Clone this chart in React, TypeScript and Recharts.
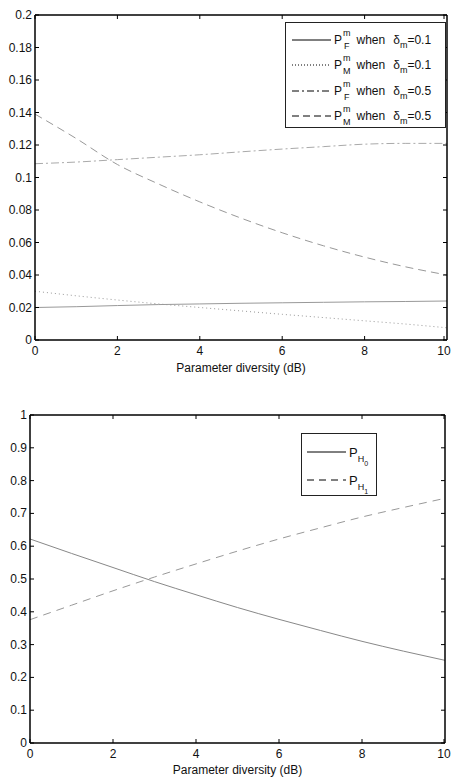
import React from 'react';
import { LineChart, Line, XAxis, YAxis } from 'recharts';

// x positions (dB)
const diversity = [0, 1, 2, 3, 4, 5, 6, 7, 8, 9, 10];

// top panel: error probabilities
const pFalseLow = [0.02, 0.0205, 0.0212, 0.0218, 0.0222, 0.0226, 0.0229, 0.0232, 0.0235, 0.0237, 0.024];
const pMissLow = [0.03, 0.0272, 0.0246, 0.0222, 0.02, 0.0179, 0.0158, 0.0138, 0.0118, 0.0098, 0.0075];
const pFalseHigh = [0.1085, 0.1095, 0.111, 0.1125, 0.114, 0.1158, 0.1175, 0.119, 0.1205, 0.121, 0.121];
const pMissHigh = [0.139, 0.124, 0.108, 0.096, 0.085, 0.075, 0.066, 0.058, 0.051, 0.045, 0.04];

// bottom panel: hypothesis probabilities
const pH0 = [0.622, 0.578, 0.535, 0.492, 0.452, 0.413, 0.377, 0.343, 0.31, 0.28, 0.252];
const pH1 = [0.376, 0.42, 0.464, 0.506, 0.546, 0.585, 0.622, 0.656, 0.689, 0.718, 0.746];

const xTicks = [0, 2, 4, 6, 8, 10];
const topYTicks = [0, 0.02, 0.04, 0.06, 0.08, 0.1, 0.12, 0.14, 0.16, 0.18, 0.2];
const bottomYTicks = [0, 0.1, 0.2, 0.3, 0.4, 0.5, 0.6, 0.7, 0.8, 0.9, 1];

const topData = diversity.map((d, i) => ({
  d,
  pfLow: pFalseLow[i],
  pmLow: pMissLow[i],
  pfHigh: pFalseHigh[i],
  pmHigh: pMissHigh[i],
}));
const bottomData = diversity.map((d, i) => ({ d, h0: pH0[i], h1: pH1[i] }));

const FONT = '"Liberation Sans", Arial, Helvetica, sans-serif';
const TICK = 4;

// matlab style: ticks point into the plot box
const LeftTick = ({ x, y, payload }: any) => (
  <g>
    <line x1={x} x2={x + TICK} y1={y} y2={y} stroke="#000" />
    <text x={x - 3} y={y} dy={4} textAnchor="end" fontFamily={FONT} fontSize={12} fill="#111">
      {payload.value}
    </text>
  </g>
);
const RightTick = ({ x, y }: any) => <line x1={x} x2={x - TICK} y1={y} y2={y} stroke="#000" />;
const BottomTick = ({ x, y, payload }: any) => (
  <g>
    <line x1={x} x2={x} y1={y} y2={y - TICK} stroke="#000" />
    <text x={x} y={y} dy={15} textAnchor="middle" fontFamily={FONT} fontSize={12} fill="#111">
      {payload.value}
    </text>
  </g>
);
const TopTick = ({ x, y }: any) => <line x1={x} x2={x} y1={y} y2={y + TICK} stroke="#000" />;

const axisLine = { stroke: '#000', strokeWidth: 1.5 };
const xLabel = (offset: number) => ({
  value: 'Parameter diversity (dB)',
  position: 'insideBottom' as const,
  offset,
  fontFamily: FONT,
  fontSize: 12,
  fill: '#111',
});

const Sample = ({ dash }: { dash?: string }) => (
  <svg width={39} height={10} style={{ verticalAlign: 'middle', marginRight: 3 }}>
    <line x1={0} x2={39} y1={5} y2={5} stroke="#000" strokeWidth={1} strokeDasharray={dash} />
  </svg>
);

const PM = ({ sub }: { sub: string }) => (
  <span style={{ display: 'inline-flex', alignItems: 'center' }}>
    P
    <span style={{ display: 'inline-block', lineHeight: '9px', fontSize: 9, marginLeft: 1, textAlign: 'center' }}>
      <span style={{ display: 'block', position: 'relative', top: -2 }}>m</span>
      <span style={{ display: 'block', position: 'relative', top: 2 }}>{sub}</span>
    </span>
  </span>
);

const topLegend = [
  { sub: 'F', delta: '0.1', dash: undefined },
  { sub: 'M', delta: '0.1', dash: '1 2' },
  { sub: 'F', delta: '0.5', dash: '7 3 2 3' },
  { sub: 'M', delta: '0.5', dash: '7 4' },
];

const TopLegend = () => (
  <div
    style={{
      position: 'absolute', left: 285, top: 22, width: 161, height: 106,
      border: '1px solid #222', background: '#fff', fontFamily: FONT, fontSize: 12,
      color: '#111', boxSizing: 'border-box', paddingTop: 4, paddingLeft: 6,
    }}
  >
    {topLegend.map((r, i) => (
      <div key={i} style={{ height: 25.5, display: 'flex', alignItems: 'center', whiteSpace: 'nowrap' }}>
        <Sample dash={r.dash} />
        <PM sub={r.sub} />
        <span style={{ marginLeft: 6 }}>when</span>
        <span style={{ marginLeft: 8 }}>δ</span>
        <span style={{ fontSize: 9, position: 'relative', top: 5 }}>m</span>
        <span>=</span>
        <span>{r.delta}</span>
      </div>
    ))}
  </div>
);

const PH = ({ n }: { n: string }) => (
  <span style={{ fontSize: 13 }}>
    P
    <span style={{ fontSize: 9, position: 'relative', top: 5 }}>H</span>
    <span style={{ fontSize: 7, position: 'relative', top: 9 }}>{n}</span>
  </span>
);

const BottomLegend = () => (
  <div
    style={{
      position: 'absolute', left: 301, top: 433, width: 76, height: 63,
      border: '1px solid #222', background: '#fff', fontFamily: FONT, fontSize: 12,
      color: '#111', boxSizing: 'border-box', paddingTop: 4, paddingLeft: 5,
    }}
  >
    <div style={{ height: 28, display: 'flex', alignItems: 'center' }}>
      <Sample />
      <PH n="0" />
    </div>
    <div style={{ height: 28, display: 'flex', alignItems: 'center' }}>
      <Sample dash="7 5" />
      <PH n="1" />
    </div>
  </div>
);

export default function App() {
  return (
    <div style={{ position: 'absolute', left: 0, top: 0, width: 452, height: 777, background: '#fff' }}>
      <div style={{ position: 'absolute', left: 0, top: 0 }}>
        <LineChart width={452} height={380} data={topData} margin={{ top: 14, right: 4, bottom: 0, left: 0 }}>
          <XAxis dataKey="d" type="number" domain={[0, 10]} ticks={xTicks} height={40}
            axisLine={axisLine} tickLine={false} tickSize={0} tickMargin={0} tick={<BottomTick />}
            label={xLabel(8)} />
          <XAxis xAxisId="top" orientation="top" dataKey="d" type="number" domain={[0, 10]} ticks={xTicks}
            height={1} axisLine={axisLine} tickLine={false} tickSize={0} tickMargin={0} tick={<TopTick />} />
          <YAxis type="number" domain={[0, 0.2]} ticks={topYTicks} width={35} allowDataOverflow
            axisLine={axisLine} tickLine={false} tickSize={0} tickMargin={0} tick={<LeftTick />} />
          <YAxis yAxisId="right" orientation="right" type="number" domain={[0, 0.2]} ticks={topYTicks}
            width={1} axisLine={axisLine} tickLine={false} tickSize={0} tickMargin={0} tick={<RightTick />} />
          <Line type="monotone" dataKey="pfLow" stroke="#999" strokeWidth={1} dot={false} isAnimationActive={false} />
          <Line type="monotone" dataKey="pmLow" stroke="#999" strokeWidth={1} strokeDasharray="1 3" dot={false} isAnimationActive={false} />
          <Line type="monotone" dataKey="pfHigh" stroke="#aaa" strokeWidth={1} strokeDasharray="8 3 2 3" dot={false} isAnimationActive={false} />
          <Line type="monotone" dataKey="pmHigh" stroke="#999" strokeWidth={1} strokeDasharray="8 5" dot={false} isAnimationActive={false} />
          {/* invisible copy so the mirrored box axes get a domain */}
          <Line xAxisId="top" yAxisId="right" type="monotone" dataKey="pfLow" stroke="none" dot={false}
            activeDot={false} legendType="none" isAnimationActive={false} />
        </LineChart>
      </div>
      <TopLegend />
      <div style={{ position: 'absolute', left: 0, top: 400 }}>
        <LineChart width={452} height={377} data={bottomData} margin={{ top: 14, right: 6, bottom: 0, left: 0 }}>
          <XAxis dataKey="d" type="number" domain={[0, 10]} ticks={xTicks} height={34}
            axisLine={axisLine} tickLine={false} tickSize={0} tickMargin={0} tick={<BottomTick />}
            label={xLabel(3)} />
          <XAxis xAxisId="top" orientation="top" dataKey="d" type="number" domain={[0, 10]} ticks={xTicks}
            height={1} axisLine={axisLine} tickLine={false} tickSize={0} tickMargin={0} tick={<TopTick />} />
          <YAxis type="number" domain={[0, 1]} ticks={bottomYTicks} width={30} allowDataOverflow
            axisLine={axisLine} tickLine={false} tickSize={0} tickMargin={0} tick={<LeftTick />} />
          <YAxis yAxisId="right" orientation="right" type="number" domain={[0, 1]} ticks={bottomYTicks}
            width={1} axisLine={axisLine} tickLine={false} tickSize={0} tickMargin={0} tick={<RightTick />} />
          <Line type="monotone" dataKey="h0" stroke="#888" strokeWidth={1} dot={false} isAnimationActive={false} />
          <Line type="monotone" dataKey="h1" stroke="#999" strokeWidth={1} strokeDasharray="8 6" dot={false} isAnimationActive={false} />
          <Line xAxisId="top" yAxisId="right" type="monotone" dataKey="h0" stroke="none" dot={false}
            activeDot={false} legendType="none" isAnimationActive={false} />
        </LineChart>
      </div>
      <BottomLegend />
    </div>
  );
}
